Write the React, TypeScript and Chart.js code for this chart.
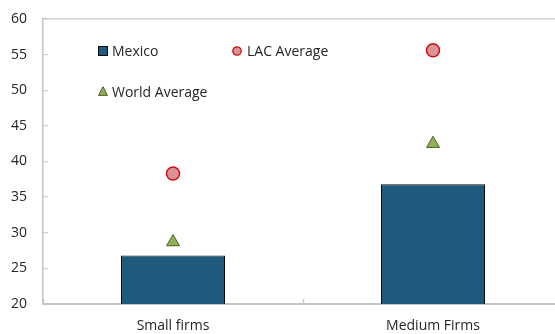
import { useEffect, useRef } from "react";
import { Chart, registerables } from "chart.js";

Chart.register(...registerables);

const categories = ["Small firms", "Medium Firms"];
const mexico = [26.8, 36.8];
const lacAverage = [38.3, 55.6];
const worldAverage = [28.7, 42.5];
const yMin = 20;
const yMax = 60;
const yStep = 5;

const FONT = "'Open Sans', 'Noto Sans', sans-serif";
const TEXT = "#262626";
const AXIS = "#c4c4c4";
const BAR_FILL = "#1f5a7c";
const LAC_FILL = "#dc9297";
const LAC_LINE = "#cc1111";
const WORLD_FILL = "#8fb055";
const WORLD_LINE = "#4f6228";

export default function App() {
  const ref = useRef<HTMLCanvasElement | null>(null);

  useEffect(() => {
    document.body.style.margin = "0";
    document.body.style.overflow = "hidden";
    const canvas = ref.current;
    if (!canvas) return;
    const chart = new Chart(canvas, {
      type: "bar",
      data: {
        labels: categories,
        datasets: [
          {
            type: "line",
            label: "LAC Average",
            data: lacAverage,
            showLine: false,
            pointStyle: "circle",
            pointRadius: 6.5,
            pointBackgroundColor: LAC_FILL,
            pointBorderColor: LAC_LINE,
            pointBorderWidth: 1.5,
            order: 0,
          },
          {
            type: "line",
            label: "World Average",
            data: worldAverage,
            showLine: false,
            pointStyle: "triangle",
            pointRadius: 7.5,
            pointBackgroundColor: WORLD_FILL,
            pointBorderColor: WORLD_LINE,
            pointBorderWidth: 1,
            order: 1,
          },
          {
            type: "bar",
            label: "Mexico",
            data: mexico,
            backgroundColor: BAR_FILL,
            borderColor: "#0a0a0a",
            borderWidth: 1,
            borderSkipped: false,
            categoryPercentage: 1,
            barPercentage: 0.4,
            order: 2,
          },
        ],
      },
      options: {
        responsive: false,
        animation: false,
        devicePixelRatio: 1,
        layout: { autoPadding: false, padding: { top: 19, right: 3, left: 0, bottom: 0 } },
        plugins: { legend: { display: false }, tooltip: { enabled: false } },
        scales: {
          x: {
            offset: true,
            grid: {
              offset: true,
              drawOnChartArea: false,
              drawTicks: true,
              tickLength: -5,
              tickColor: AXIS,
              tickWidth: 1.5,
            },
            border: { color: AXIS, width: 2 },
            ticks: {
              color: TEXT,
              font: { family: FONT, size: 14 },
              padding: 19,
              maxRotation: 0,
            },
            afterFit: (s: any) => {
              s.height = 30;
              s.paddingLeft = 0;
              s.paddingRight = 0;
            },
          },
          y: {
            min: yMin,
            max: yMax,
            ticks: {
              stepSize: yStep,
              color: TEXT,
              font: { family: FONT, size: 14 },
              padding: 21,
            },
            grid: {
              drawOnChartArea: true,
              color: (c: any) =>
                c.tick && c.tick.value === yMax ? "#d4d4d4" : "rgba(0,0,0,0)",
              lineWidth: 1.5,
              drawTicks: true,
              tickLength: -5,
              tickColor: AXIS,
              tickWidth: 1,
            },
            border: { color: AXIS, width: 1.5 },
            afterFit: (s: any) => {
              s.width = 43;
              s.paddingTop = 0;
              s.paddingBottom = 0;
            },
          },
        },
      },
    });
    return () => chart.destroy();
  }, []);

  const rowStyle = (left: number, top: number): React.CSSProperties => ({
    position: "absolute",
    left,
    top,
    height: 18,
    display: "flex",
    alignItems: "center",
    fontFamily: FONT,
    fontSize: 14,
    color: TEXT,
    whiteSpace: "nowrap",
  });

  return (
    <div style={{ position: "absolute", left: 0, top: 0, width: 555, height: 334, overflow: "hidden", background: "#fff" }}>
      <canvas ref={ref} width={566} height={334} style={{ display: "block" }} />
      <div style={rowStyle(98, 41.5)}>
        <svg width="10" height="10" style={{ marginRight: 4 }}>
          <rect x="0.5" y="0.5" width="9" height="9" fill={BAR_FILL} stroke="#0a0a0a" strokeWidth="1" />
        </svg>
        <span>Mexico</span>
      </div>
      <div style={rowStyle(232, 41.5)}>
        <svg width="10" height="10" style={{ marginRight: 5 }}>
          <circle cx="5" cy="5" r="4.2" fill={LAC_FILL} stroke={LAC_LINE} strokeWidth="1.3" />
        </svg>
        <span>LAC Average</span>
      </div>
      <div style={rowStyle(98, 82)}>
        <svg width="10" height="10" style={{ marginRight: 4 }}>
          <polygon points="5,0.7 9.5,9.4 0.5,9.4" fill={WORLD_FILL} stroke={WORLD_LINE} strokeWidth="1" />
        </svg>
        <span>World Average</span>
      </div>
    </div>
  );
}
